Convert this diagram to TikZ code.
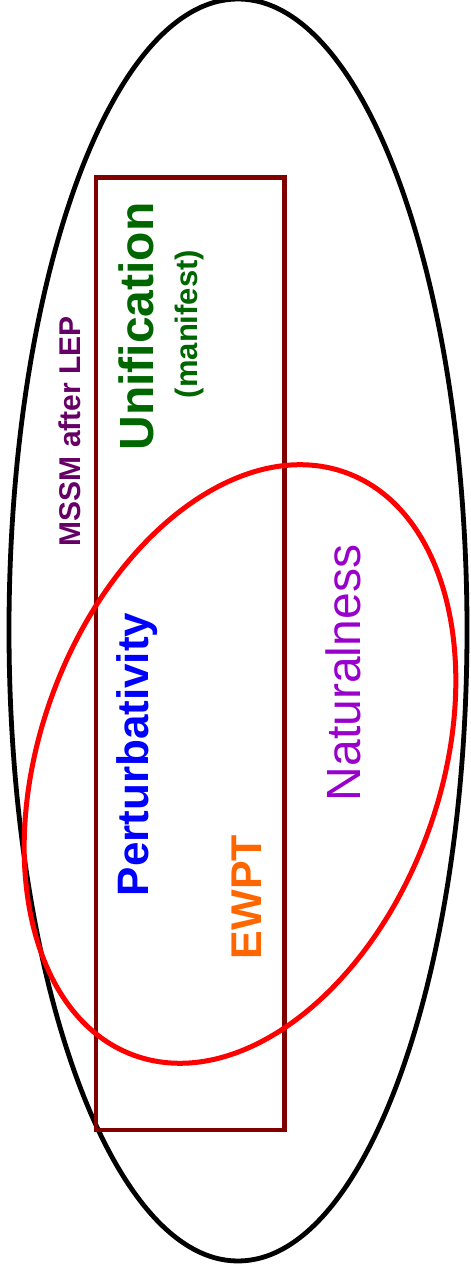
\documentclass[tikz,border=0pt]{standalone}
\usepackage{fontspec}
\setmainfont{Liberation Sans}
\definecolor{plum}{HTML}{660066}
\definecolor{leaf}{HTML}{006600}
\definecolor{pblue}{HTML}{0000FF}
\definecolor{ember}{HTML}{FF6600}
\definecolor{violet}{HTML}{9900CC}
\definecolor{maroon}{HTML}{800000}
\definecolor{scarlet}{HTML}{FF0000}
\newcommand{\fsz}[1]{\fontsize{#1}{#1}\selectfont}
\tikzset{
  %% regions
  outer/.style  = {draw=black, line width=2.4pt},
  frame/.style  = {draw=maroon, line width=2.2pt},
  blob/.style   = {draw=scarlet, line width=2.5pt},
  %% labels (read bottom to top)
  tag/.style    = {rotate=90, anchor=base, inner sep=0pt},
}
\begin{document}
\begin{tikzpicture}[x=1pt, y=1pt]
\useasboundingbox (0,0) rectangle (235.5,638);

%% MSSM after LEP
\draw[outer] (119,323) ellipse [x radius=114.5pt, y radius=315.5pt];

%% unification box
\draw[frame] (48,73) rectangle (142.25,549.25);

%% naturalness region
\draw[blob, rotate around={-20:(120,256)}] (120,256) ellipse [x radius=100pt, y radius=155pt];

%% labels
\node[tag, text=plum, font=\bfseries\fsz{15}] (mssm) at (40,422.5) {MSSM after LEP};
\node[tag, text=leaf, font=\bfseries\fsz{24}] (unif) at (76.5,474.75) {Unification};
\node[tag, text=leaf, font=\bfseries\fsz{15.5}] (manif) at (98.5,476) {(manifest)};
\node[tag, text=pblue, font=\bfseries\fsz{22}] (pert) at (74,260.75) {Perturbativity};
\node[tag, text=ember, font=\bfseries\fsz{21.5}] (ewpt) at (130.5,189.5) {EWPT};
\node[tag, text=violet, font=\fsz{24}] (nat) at (180,301.5) {Naturalness};

\end{tikzpicture}
\end{document}
